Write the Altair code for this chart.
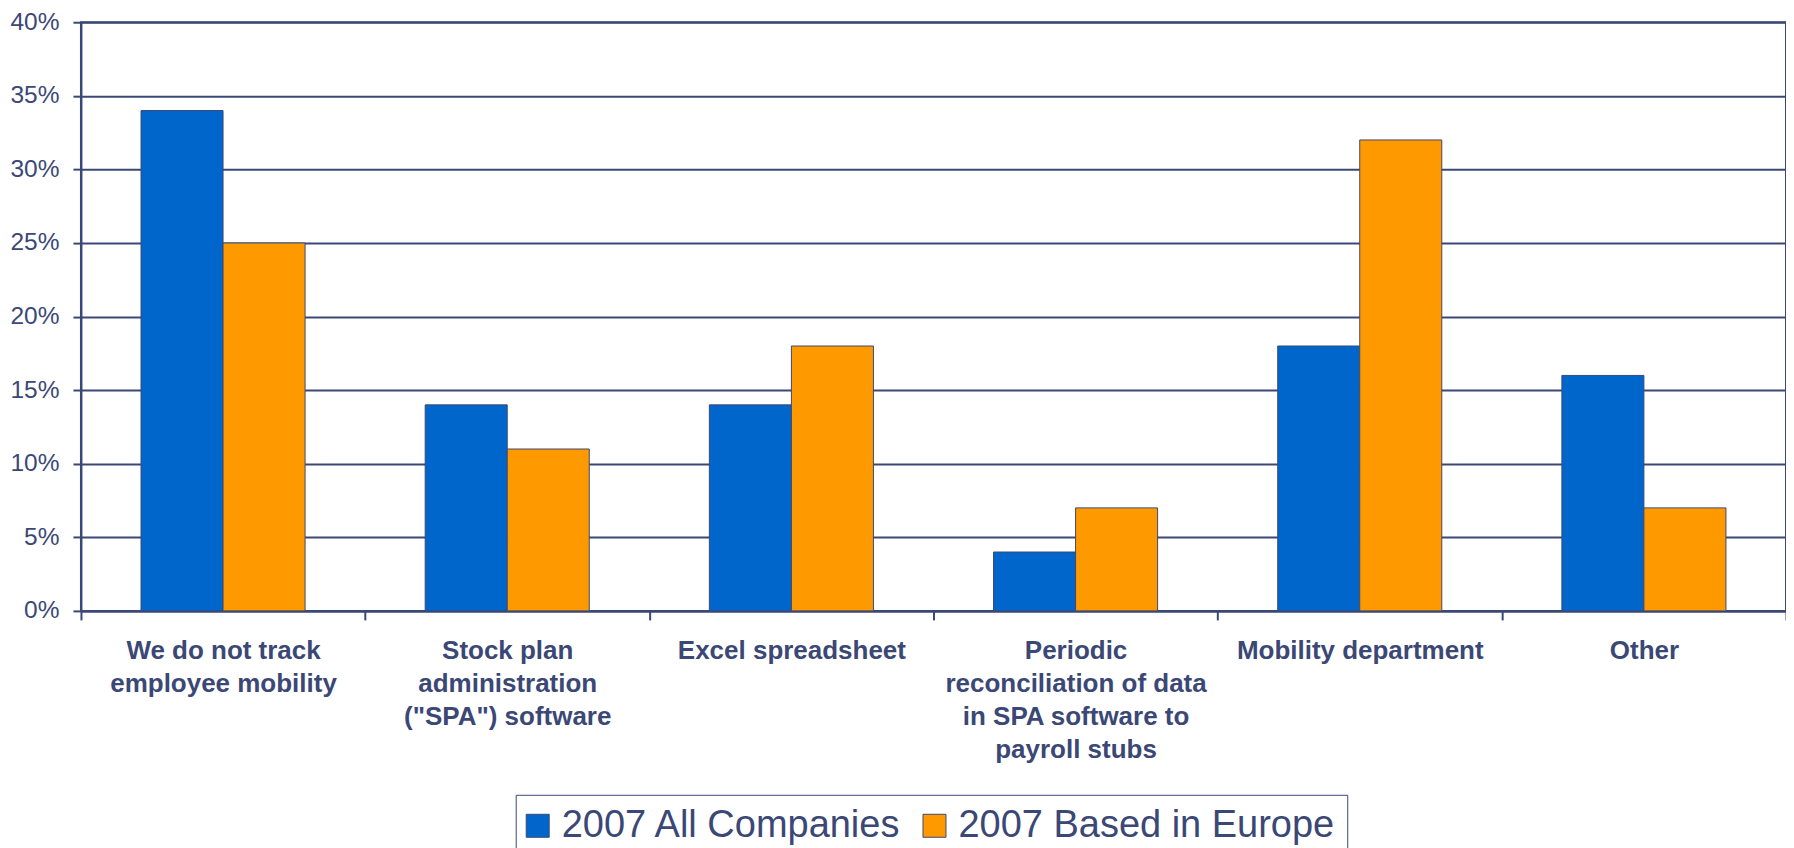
import altair as alt
import pandas as pd

categories = [
    "We do not track|employee mobility",
    "Stock plan|administration|(\"SPA\") software",
    "Excel spreadsheet",
    "Periodic|reconciliation of data|in SPA software to|payroll stubs",
    "Mobility department",
    "Other",
]
series = ["2007 All Companies", "2007 Based in Europe"]
all_companies = [34, 14, 14, 4, 18, 16]
based_in_europe = [25, 11, 18, 7, 32, 7]
y_ticks = [0, 5, 10, 15, 20, 25, 30, 35, 40]

rows = []
for c, a, e in zip(categories, all_companies, based_in_europe):
    rows.append({"category": c, "series": series[0], "value": a / 100})
    rows.append({"category": c, "series": series[1], "value": e / 100})
df = pd.DataFrame(rows)

INK = "#3B4876"
FONT = "Liberation Sans"

chart = alt.Chart(df).mark_bar(stroke=INK, strokeWidth=1).encode(
    x=alt.X(
        "category:N",
        sort=categories,
        scale=alt.Scale(paddingInner=0, paddingOuter=0),
        axis=alt.Axis(
            title=None,
            labelExpr="split(datum.label, '|')",
            labelAngle=0,
            labelFont=FONT,
            labelFontWeight="bold",
            labelFontSize=26,
            labelColor=INK,
            labelLineHeight=33,
            labelLimit=500,
            labelOverlap=False,
            labelPadding=18,
            tickBand="extent",
            tickSize=9,
            tickColor=INK,
            tickWidth=2,
            domainColor=INK,
            domainWidth=2,
            grid=False,
        ),
    ),
    xOffset=alt.XOffset(
        "series:N",
        sort=series,
        scale=alt.Scale(paddingInner=0, paddingOuter=0.732),
    ),
    y=alt.Y(
        "value:Q",
        scale=alt.Scale(domain=[0, 0.4], nice=False),
        axis=alt.Axis(
            title=None,
            values=[v / 100 for v in y_ticks],
            format=".0%",
            labelFont=FONT,
            labelFontSize=24.5,
            labelColor=INK,
            labelPadding=14,
            tickSize=8,
            tickColor=INK,
            tickWidth=2,
            domainColor=INK,
            domainWidth=2,
            grid=True,
            gridColor=INK,
            gridWidth=2,
        ),
    ),
    color=alt.Color(
        "series:N",
        sort=series,
        scale=alt.Scale(domain=series, range=["#0066CC", "#FF9900"]),
        legend=alt.Legend(
            title=None,
            orient="none",
            legendX=435,
            legendY=773,
            direction="horizontal",
            strokeColor=INK,
            fillColor="white",
            padding=12,
            labelFont=FONT,
            labelFontSize=38,
            labelColor=INK,
            labelLimit=600,
            labelOffset=5,
            columnPadding=18,
            symbolType="square",
            symbolSize=529,
            symbolOffset=-9,
            symbolStrokeColor=INK,
            symbolStrokeWidth=1,
            symbolOpacity=1,
        ),
    ),
).properties(
    width=1706,
    height=589,
    autosize=alt.AutoSizeParams(type="none"),
    padding={"left": 73, "top": 14, "right": 0, "bottom": 240},
    background="white",
).configure_view(
    stroke=INK,
    strokeWidth=2,
)

chart.save("out.html", embed_options={"renderer": "svg", "actions": False})
